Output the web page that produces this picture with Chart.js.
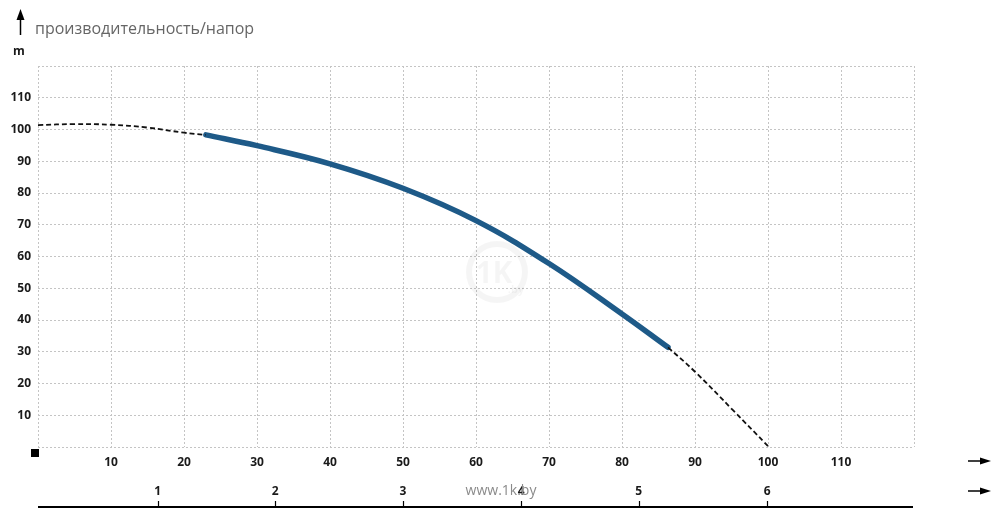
<!DOCTYPE html>
<html>
<head>
<meta charset="utf-8">
<script src="https://cdn.jsdelivr.net/npm/chart.js@4/dist/chart.umd.min.js"></script>
<style>
  html, body { margin: 0; padding: 0; background: #ffffff; }
  #wrap { width: 1002px; height: 519px; position: relative; }
</style>
</head>
<body>
<div id="wrap"><canvas id="c" width="1002" height="519"></canvas></div>
<script>
// ---- data ----
const titleText = 'производительность/напор';
const yUnit = 'm';
const watermark = 'www.1k.by';

// flow (l/min) vs head (m)
const flowLeft  = [0, 5, 10, 15, 20, 23];
const headLeft  = [101.4, 101.7, 101.5, 100.6, 99.0, 98.3];

const flowWork  = [23, 30, 40, 50, 60, 70, 80, 86.3];
const headWork  = [98.3, 94.9, 89.2, 81.5, 71.3, 57.8, 41.9, 31.4];

const flowRight = [86.3, 90, 95.2, 100];
const headRight = [31.4, 23.7, 11.6, 0.3];

// axis ticks
const flowTicks = [10, 20, 30, 40, 50, 60, 70, 80, 90, 100, 110];
const headTicks = [10, 20, 30, 40, 50, 60, 70, 80, 90, 100, 110];
// secondary axis (m³/h): labels and where they sit on the flow axis
const m3hLabels = ['1', '2', '3', '4', '5', '6'];
const m3hAtFlow = [16.4, 32.5, 50.0, 66.2, 82.3, 99.9];

const toPts = (xs, ys) => xs.map((x, i) => ({ x: x, y: ys[i] }));

Chart.defaults.font.family = "'Open Sans', 'Liberation Sans', sans-serif";

const extras = {
  id: 'extras',
  beforeDatasetsDraw(chart) {
    const ctx = chart.ctx;
    ctx.save();
    // faint logo watermark
    ctx.strokeStyle = 'rgba(0,0,0,0.04)';
    ctx.lineWidth = 6;
    ctx.beginPath();
    ctx.arc(497, 272, 28, 0, Math.PI * 2);
    ctx.stroke();
    ctx.fillStyle = 'rgba(0,0,0,0.04)';
    ctx.font = "bold 30px 'Open Sans'";
    ctx.textAlign = 'center';
    ctx.textBaseline = 'middle';
    ctx.fillText('1K', 494, 274);
    ctx.font = "bold 11px 'Open Sans'";
    ctx.fillText('.by', 516, 290);
    ctx.restore();
  },
  afterDraw(chart) {
    const ctx = chart.ctx;
    ctx.save();
    // title
    ctx.fillStyle = '#666666';
    ctx.font = "16px 'Open Sans'";
    ctx.textAlign = 'left';
    ctx.textBaseline = 'middle';
    ctx.fillText(titleText, 35, 29);
    // unit
    ctx.fillStyle = '#1a1a1a';
    ctx.font = "bold 12px 'Open Sans'";
    ctx.textAlign = 'center';
    ctx.fillText(yUnit, 19, 52);
    // up arrow
    ctx.strokeStyle = '#000';
    ctx.lineWidth = 1.5;
    ctx.beginPath();
    ctx.moveTo(20.5, 35); ctx.lineTo(20.5, 17);
    ctx.stroke();
    ctx.fillStyle = '#000';
    ctx.beginPath();
    ctx.moveTo(16.5, 20); ctx.lineTo(24.5, 20); ctx.lineTo(20.5, 9);
    ctx.closePath(); ctx.fill();
    // origin square
    ctx.fillRect(31, 449, 8, 8);
    // right arrows
    [461, 491].forEach(y => {
      ctx.beginPath();
      ctx.moveTo(968, y); ctx.lineTo(982, y);
      ctx.stroke();
      ctx.beginPath();
      ctx.moveTo(980, y - 3.5); ctx.lineTo(980, y + 3.5); ctx.lineTo(991, y);
      ctx.closePath(); ctx.fill();
    });
    // secondary axis line with ticks
    const x2 = chart.scales.x2;
    ctx.lineWidth = 2;
    ctx.beginPath();
    ctx.moveTo(x2.left, 507); ctx.lineTo(x2.right - 1, 507);
    ctx.stroke();
    ctx.lineWidth = 1.2;
    m3hAtFlow.forEach(v => {
      const px = Math.round(x2.getPixelForValue(v)) + 0.5;
      ctx.beginPath();
      ctx.moveTo(px, 501); ctx.lineTo(px, 507);
      ctx.stroke();
    });
    // watermark text
    ctx.fillStyle = '#8a8a8a';
    ctx.font = "14px 'Open Sans'";
    ctx.textAlign = 'center';
    ctx.fillText(watermark, 501, 491);
    ctx.restore();
  }
};

const gridStyle = { color: '#c4c4c4', lineWidth: 1, drawTicks: false };
const borderStyle = { display: false, dash: [2, 2] };
const tickFont = { size: 12, weight: 'bold' };

new Chart(document.getElementById('c'), {
  type: 'line',
  data: {
    datasets: [
      {
        data: toPts(flowLeft, headLeft),
        borderColor: '#111111', borderWidth: 1.8, borderDash: [5, 3],
        pointRadius: 0, tension: 0.4, fill: false
      },
      {
        data: toPts(flowRight, headRight),
        borderColor: '#111111', borderWidth: 1.8, borderDash: [5, 3],
        pointRadius: 0, tension: 0.4, fill: false
      },
      {
        data: toPts(flowWork, headWork),
        borderColor: '#1e5a88', borderWidth: 5.5, borderCapStyle: 'round',
        pointRadius: 0, tension: 0.4, fill: false
      }
    ]
  },
  options: {
    responsive: false,
    animation: false,
    layout: { padding: { left: 0, top: 66, right: 88, bottom: 0 } },
    plugins: { legend: { display: false }, tooltip: { enabled: false }, title: { display: false } },
    scales: {
      x: {
        type: 'linear', position: 'bottom', weight: 0,
        min: 0, max: 120,
        grid: gridStyle, border: borderStyle,
        afterBuildTicks: s => { s.ticks = [0].concat(flowTicks, [120]).map(v => ({ value: v })); },
        ticks: {
          autoSkip: false, maxRotation: 0, padding: 8, color: '#1a1a1a', font: tickFont,
          callback: v => (flowTicks.includes(v) ? String(v) : '')
        },
        afterFit: s => { s.height = 30; }
      },
      x2: {
        type: 'linear', position: 'bottom', weight: 1,
        min: 0, max: 120,
        grid: { display: false, drawTicks: false }, border: { display: false },
        afterBuildTicks: s => { s.ticks = m3hAtFlow.map(v => ({ value: v })); },
        ticks: {
          autoSkip: false, maxRotation: 0, padding: 7, color: '#1a1a1a', font: tickFont,
          callback: v => { const i = m3hAtFlow.indexOf(v); return i >= 0 ? m3hLabels[i] : ''; }
        },
        afterFit: s => { s.height = 42; }
      },
      y: {
        type: 'linear', position: 'left',
        min: 0, max: 120,
        grid: gridStyle, border: borderStyle,
        afterBuildTicks: s => { s.ticks = [0].concat(headTicks, [120]).map(v => ({ value: v })); },
        ticks: {
          autoSkip: false, padding: 7, color: '#1a1a1a', font: tickFont,
          callback: v => (headTicks.includes(v) ? String(v) : '')
        },
        afterFit: s => { s.width = 38; }
      }
    }
  },
  plugins: [extras]
});
</script>
</body>
</html>
